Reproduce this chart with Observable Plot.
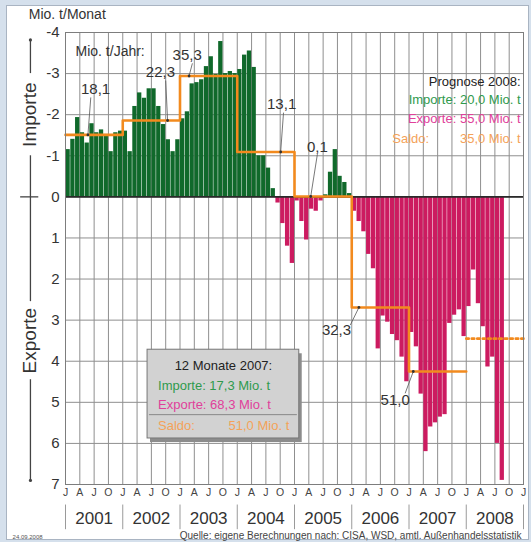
<!DOCTYPE html>
<html><head><meta charset="utf-8">
<script src="https://cdn.jsdelivr.net/npm/d3@7"></script>
<script src="https://cdn.jsdelivr.net/npm/@observablehq/plot@0.6"></script>
<style>
html,body{margin:0;padding:0;background:#d5e0ec;width:531px;height:542px;overflow:hidden;}
#panel{position:absolute;left:6px;top:5px;width:521px;height:533px;background:#fff;border:1px solid #a9b4c2;}
#chart{position:absolute;left:0;top:0;}
#chart svg{display:block;}
</style>
</head><body>
<div id="panel"></div>
<div id="chart"></div>
<script>
// Monthly net trade, Mio. t per month (negative = net imports, positive = net exports)
const years = [2001, 2002, 2003, 2004, 2005, 2006, 2007, 2008];
const quarterLetters = ["J", "A", "J", "O"];
const saldo2001 = [-1.15,-1.40,-1.93,-1.56,-1.31,-1.78,-1.56,-1.63,-1.52,-1.10,-1.56,-1.60];
const saldo2002 = [-1.60,-1.10,-2.20,-2.53,-2.40,-2.63,-2.63,-2.20,-1.76,-1.39,-1.10,-1.39];
const saldo2003 = [-1.90,-2.07,-2.75,-2.78,-2.85,-3.17,-3.41,-2.98,-3.78,-3.00,-3.05,-3.00];
const saldo2004 = [-3.10,-3.45,-3.55,-3.15,-1.00,-1.00,-0.70,-0.20,0.15,0.65,1.20,1.62];
const saldo2005 = [0.10,0.60,1.05,0.30,0.35,0.10,-0.05,-0.60,-1.15,-0.50,-0.35,-0.08];
const saldo2006 = [0.35,0.60,0.85,1.40,1.75,3.70,2.90,3.05,3.35,3.50,3.90,4.50];
const saldo2007 = [3.30,3.65,4.80,6.20,5.60,5.50,5.36,5.30,3.08,2.88,2.75,3.40];
const saldo2008 = [2.67,1.78,2.60,3.16,4.14,3.90,6.00,6.90];
// Annual net trade, Mio. t per year (2001-2007)
const annualSaldo = [-18.1, -22.3, -35.3, -13.1, -0.1, 32.3, 51.0];
const annualLabels = ["18,1", "22,3", "35,3", "13,1", "0,1", "32,3", "51,0"];
const saldo2008Avg = 3.45; // Mio. t per month, Jan-Aug 2008
const prognose = ["Prognose 2008:", "Importe: 20,0 Mio. t", "Exporte: 55,0 Mio. t", "Saldo:", "35,0 Mio. t"];
const box2007 = ["12 Monate 2007:", "Importe: 17,3 Mio. t", "Exporte: 68,3 Mio. t", "Saldo:", "51,0 Mio. t"];

const green = "#10692b", magenta = "#cc1b60", orange = "#f28a1e";
const tGreen = "#2f9a4d", tMagenta = "#e0409a", tOrange = "#f4a259";
const font = "Liberation Sans, Arial, sans-serif";

const yearValues = [saldo2001, saldo2002, saldo2003, saldo2004, saldo2005, saldo2006, saldo2007, saldo2008];
const months = [];
yearValues.forEach((vals, yi) => vals.forEach((v, m) => months.push({x1: yi*12+m, x2: yi*12+m+1, v})));

const steps = annualSaldo.map((t, i) => ({x: i*12, y: t/12}));
steps.push({x: annualSaldo.length*12, y: annualSaldo[annualSaldo.length-1]/12});
const dotted = [{x: 84, y: saldo2008Avg}, {x: 96, y: saldo2008Avg}];

// annotation placement (month index, value)
const ann = [
  {lx:6.3, ly:-2.62, x1:5.3, y1:-2.42, x2:4.7},
  {lx:19.9, ly:-3.03, x1:21.0, y1:-2.83, x2:21.4},
  {lx:25.5, ly:-3.44, x1:26.6, y1:-3.25, x2:25.9},
  {lx:45.3, ly:-2.25, x1:45.7, y1:-2.05, x2:45.1},
  {lx:52.8, ly:-1.22, x1:52.8, y1:-1.04, x2:51.4},
  {lx:56.8, ly:3.25, x1:59.7, y1:3.12, x2:61.5},
  {lx:69.1, ly:4.95, x1:71.2, y1:4.78, x2:72.9}
].map((a, i) => ({...a, y2: annualSaldo[i]/12, text: annualLabels[i]}));

const txt = (data, o) => Plot.text(data, {fontFamily: font, ...o});

const chart = Plot.plot({
  width: 531, height: 542,
  marginLeft: 65, marginRight: 8, marginTop: 32, marginBottom: 58,
  style: {background: "transparent", fontFamily: font},
  x: {domain: [0, 96], axis: null},
  y: {domain: [-4, 7], reverse: true, axis: null},
  marks: [
    Plot.ruleY(d3.range(-4, 8), {stroke: "#8f8f8f", strokeWidth: 1}),
    Plot.ruleX(d3.range(0, 97, 3), {stroke: "#8f8f8f", strokeWidth: 1}),
    Plot.rect(months, {x1: "x1", x2: "x2", y1: 0, y2: "v", fill: d => d.v < 0 ? green : magenta, insetLeft: 0.5}),
    Plot.ruleY([0], {stroke: "#2a2a2a", strokeWidth: 1.6}),
    Plot.line(steps, {x: "x", y: "y", curve: "step-after", stroke: orange, strokeWidth: 2.6}),
    Plot.line(dotted, {x: "x", y: "y", stroke: orange, strokeWidth: 2.6, strokeDasharray: "2.5,3"}),
    Plot.frame({stroke: "#7d7d7d", strokeWidth: 1}),
    Plot.axisY({ticks: d3.range(-4, 8), tickFormat: d => String(d), tickSize: 0, tickPadding: 6, fontSize: 15, fill: "#333", label: null}),
    Plot.axisX({ticks: d3.range(0, 97, 3), tickFormat: d => quarterLetters[(d/3) % 4], tickSize: 0, tickPadding: 4, fontSize: 10.5, fill: "#444", label: null}),
    // year labels and separators
    txt(years, {x: (d, i) => i*12 + 6, y: 7.83, text: d => String(d), fontSize: 17, fill: "#333"}),
    Plot.ruleX(d3.range(0, 97, 12), {y1: 7.5, y2: 8.1, stroke: "#9a9a9a"}),
    // left axis decoration
    txt(["Mio. t/Monat"], {x: -7.7, y: -4.43, text: d => d, textAnchor: "start", fontSize: 14, fill: "#333"}),
    txt(["Importe"], {x: -7.4, y: -2.0, text: d => d, rotate: -90, fontSize: 19, fill: "#333"}),
    txt(["Exporte"], {x: -7.4, y: 3.5, text: d => d, rotate: -90, fontSize: 19, fill: "#333"}),
    Plot.ruleX([-7.35], {y1: -3.82, y2: -3.0, stroke: "#444", strokeWidth: 1.3}),
    Plot.ruleX([-7.35], {y1: -1.0, y2: 2.55, stroke: "#444", strokeWidth: 1.3}),
    Plot.ruleX([-7.35], {y1: 4.45, y2: 6.9, stroke: "#444", strokeWidth: 1.3}),
    Plot.ruleY([0], {x1: -9.4, x2: -5.6, stroke: "#444", strokeWidth: 1.3}),
    Plot.dot([-3.82, 6.9], {x: -7.35, y: d => d, r: 1.6, fill: "#444"}),
    // annual annotations
    txt(["Mio. t/Jahr:"], {x: 2.1, y: -3.54, text: d => d, textAnchor: "start", fontSize: 14, fill: "#333"}),
    Plot.link(ann, {x1: "x1", y1: "y1", x2: "x2", y2: "y2", stroke: "#555", strokeWidth: 0.8}),
    Plot.dot(ann, {x: "x2", y: "y2", r: 1.4, fill: "#333"}),
    txt(ann, {x: "lx", y: "ly", text: "text", fontSize: 15, fill: "#333"}),
    // Prognose 2008
    txt([prognose[0]], {x: 95.4, y: -2.81, text: d => d, textAnchor: "end", fontSize: 13, fill: "#222"}),
    txt([prognose[1]], {x: 95.4, y: -2.35, text: d => d, textAnchor: "end", fontSize: 13, fill: tGreen}),
    txt([prognose[2]], {x: 95.4, y: -1.91, text: d => d, textAnchor: "end", fontSize: 13, fill: tMagenta}),
    txt([prognose[3]], {x: 68.5, y: -1.42, text: d => d, textAnchor: "start", fontSize: 13, fill: tOrange}),
    txt([prognose[4]], {x: 95.4, y: -1.42, text: d => d, textAnchor: "end", fontSize: 13, fill: tOrange}),
    // 12 Monate 2007 box
    Plot.rect([0], {x1: 17.4, x2: 49.2, y1: 3.77, y2: 5.93, fill: "#8c8c8c", dx: 2, dy: 2}),
    Plot.rect([0], {x1: 17.2, x2: 49.0, y1: 3.72, y2: 5.88, fill: "#d2d2d2", stroke: "#777", strokeWidth: 1}),
    txt([box2007[0]], {x: 33.1, y: 4.1, text: d => d, fontSize: 13, fill: "#222"}),
    txt([box2007[1]], {x: 19.4, y: 4.6, text: d => d, textAnchor: "start", fontSize: 13, fill: tGreen}),
    txt([box2007[2]], {x: 19.4, y: 5.07, text: d => d, textAnchor: "start", fontSize: 13, fill: tMagenta}),
    Plot.ruleY([5.3], {x1: 17.6, x2: 48.6, stroke: "#888", strokeWidth: 1}),
    txt([box2007[3]], {x: 19.4, y: 5.56, text: d => d, textAnchor: "start", fontSize: 13, fill: tOrange}),
    txt([box2007[4]], {x: 46.9, y: 5.56, text: d => d, textAnchor: "end", fontSize: 13, fill: tOrange}),
    // footer
    txt(["24.09.2008"], {x: -11.1, y: 8.27, text: d => d, textAnchor: "start", fontSize: 6, fill: "#555"}),
    txt(["Quelle: eigene Berechnungen nach: CISA, WSD, amtl. Außenhandelsstatistik"], {x: 95.6, y: 8.25, text: d => d, textAnchor: "end", fontSize: 10, fill: "#444"})
  ]
});
document.getElementById("chart").append(chart);
</script>
</body></html>
